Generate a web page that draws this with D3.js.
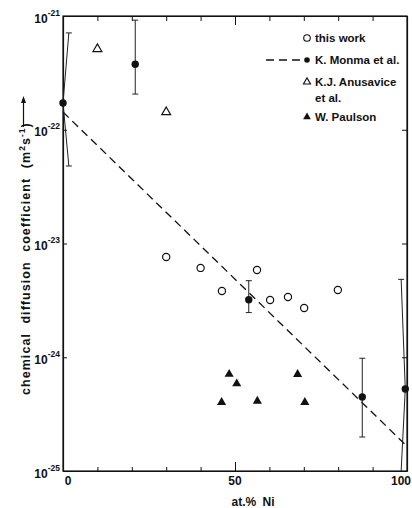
<!DOCTYPE html>
<html>
<head>
<meta charset="utf-8">
<script src="https://cdn.jsdelivr.net/npm/d3@7/dist/d3.min.js"></script>
<style>
  html, body { margin: 0; padding: 0; background: #fff; }
  svg { display: block; font-family: "Liberation Sans", Arial, Helvetica, sans-serif; font-weight: bold; }
</style>
</head>
<body>
<svg id="chart" width="412" height="508"></svg>
<script>
// Chemical diffusion coefficient vs. nickel content (at.% Ni)

// this work (open circles)
const workNi = [30, 40, 46.2, 56.4, 60.2, 65.4, 70.1, 79.9];
const workD  = [7.6e-24, 6.1e-24, 3.82e-24, 5.85e-24, 3.19e-24, 3.39e-24, 2.71e-24, 3.9e-24];

// K. Monma et al. (filled circles with error bars)
const monmaNi   = [0, 21, 54, 87, 99.5];
const monmaD    = [1.72e-22, 3.76e-22, 3.2e-24, 4.47e-25, 5.26e-25];
const monmaHigh = [7.1e-22, 9.2e-22, 4.71e-24, 9.8e-25, 4.84e-24];
const monmaLow  = [4.8e-23, 2.06e-22, 2.47e-24, 1.99e-25, 1e-25];
const monmaBarNi = [1.7, 21, 54, 87, 98.3];

// K. Monma et al. fitted line (dashed)
const fitNi = [0, 100];
const fitD  = [1.43e-22, 1.65e-25];

// K.J. Anusavice et al. (open triangles)
const anusNi = [10, 30];
const anusD  = [5.13e-22, 1.43e-22];

// W. Paulson (filled triangles)
const paulNi = [48.3, 50.5, 46.1, 56.5, 68.2, 70.3];
const paulD  = [7.1e-25, 5.85e-25, 4.02e-25, 4.12e-25, 7.08e-25, 4.02e-25];

// axis ticks
const xTicks = d3.range(0, 101, 10);
const xLabels = ["0", "50", "100"];
const yTicks = [1e-25, 1e-24, 1e-23, 1e-22, 1e-21];

const legendItems = ["this work", "K. Monma et al.", "K.J. Anusavice", "W. Paulson"];

const ink = "#111";
const svg = d3.select("#chart");
const x = d3.scaleLinear().domain([0, 100]).range([63, 407]);
const y = d3.scaleLog().domain([1e-25, 1e-21]).range([471, 16]);

// frame
svg.append("rect")
  .attr("x", x(0)).attr("y", y(1e-21))
  .attr("width", x(100) - x(0)).attr("height", y(1e-25) - y(1e-21))
  .attr("fill", "none").attr("stroke", ink).attr("stroke-width", 1.2);

// bottom axis (inward ticks, longer at 50)
const gB = svg.append("g").attr("transform", `translate(0,${y(1e-25)})`)
  .call(d3.axisBottom(x).tickValues(xTicks).tickSize(-4).tickSizeOuter(0).tickFormat(""));
gB.selectAll(".tick line").attr("y2", d => d === 50 ? -9 : -4);
// top axis
const gT = svg.append("g").attr("transform", `translate(0,${y(1e-21)})`)
  .call(d3.axisTop(x).tickValues(xTicks).tickSize(-5).tickSizeOuter(0).tickFormat(""));
gT.selectAll(".tick line").attr("y2", d => d === 50 ? 9 : 5);
// left axis
const gL = svg.append("g").attr("transform", `translate(${x(0)},0)`)
  .call(d3.axisLeft(y).tickValues(yTicks).tickSize(-4).tickSizeOuter(0).tickPadding(3)
    .tickFormat(() => ""));
// right axis
const gR = svg.append("g").attr("transform", `translate(${x(100)},0)`)
  .call(d3.axisRight(y).tickValues(yTicks).tickSize(-5).tickSizeOuter(0).tickFormat(""));

[gB, gT, gL, gR].forEach(g => {
  g.select(".domain").attr("stroke", ink).attr("stroke-width", 1.2);
  g.selectAll(".tick line").attr("stroke", ink).attr("stroke-width", 1);
});

// x labels: 0 and 50 centred on ticks, 100 kept inside the right edge
svg.append("g").attr("font-size", 12).attr("fill", ink)
  .selectAll("text").data(xLabels).join("text")
  .attr("x", d => d === "100" ? 411 : (d === "0" ? x(0) + 5 : x(+d)))
  .attr("y", 485)
  .attr("text-anchor", d => d === "100" ? "end" : "middle")
  .text(d => d);

// power-of-ten labels on the left
gL.selectAll(".tick text")
  .attr("font-family", null).attr("font-size", 12).attr("fill", ink)
  .attr("dy", 6)
  .each(function(d) {
    const t = d3.select(this);
    t.append("tspan").text("10");
    t.append("tspan").attr("dy", -7).attr("font-size", 8.5).text(Math.round(Math.log10(d)));
  });

// axis titles
svg.append("text")
  .attr("x", 253).attr("y", 506)
  .attr("text-anchor", "middle").attr("font-size", 12).attr("fill", ink)
  .attr("word-spacing", 3)
  .text("at.% Ni");

const yTitle = svg.append("text")
  .attr("transform", "translate(30,395) rotate(-90)")
  .attr("font-size", 12.5).attr("fill", ink)
  .attr("letter-spacing", 1.05).attr("word-spacing", 5);
yTitle.append("tspan").text("chemical diffusion coefficient (m");
yTitle.append("tspan").attr("dy", -5).attr("font-size", 8.5).text("2");
yTitle.append("tspan").attr("dy", 5).text("s");
yTitle.append("tspan").attr("dy", -5).attr("font-size", 8.5).text("-1");
yTitle.append("tspan").attr("dy", 5).text(")");
// arrow after the unit
svg.append("line").attr("x1", 23.5).attr("x2", 23.5).attr("y1", 127).attr("y2", 101)
  .attr("stroke", ink).attr("stroke-width", 1.2);
svg.append("path").attr("d", "M23.5,96 L21,103 L26,103 Z").attr("fill", ink);

// fitted line
svg.append("path")
  .attr("d", d3.line().x(d => x(d[0])).y(d => y(d[1]))(fitNi.map((n, i) => [n, fitD[i]])))
  .attr("fill", "none").attr("stroke", ink).attr("stroke-width", 1.3)
  .attr("stroke-dasharray", "8,5");

// Monma error bars: each bar runs from the point to its caps
const capW = 3;
monmaNi.forEach((n, i) => {
  const px = x(n), py = y(monmaD[i]), bx = x(monmaBarNi[i]);
  const yHi = y(monmaHigh[i]), yLo = y(monmaLow[i]);
  svg.append("line").attr("x1", px).attr("y1", py).attr("x2", bx).attr("y2", yHi)
    .attr("stroke", "#222").attr("stroke-width", 1);
  svg.append("line").attr("x1", px).attr("y1", py).attr("x2", bx).attr("y2", yLo)
    .attr("stroke", "#222").attr("stroke-width", 1);
  svg.append("line").attr("x1", bx - capW).attr("x2", bx + capW).attr("y1", yHi).attr("y2", yHi)
    .attr("stroke", "#222").attr("stroke-width", 1);
  if (monmaLow[i] > y.domain()[0])
    svg.append("line").attr("x1", bx - capW).attr("x2", bx + capW).attr("y1", yLo).attr("y2", yLo)
      .attr("stroke", "#222").attr("stroke-width", 1);
});

// this work
svg.append("g").selectAll("circle").data(workNi.map((n, i) => [n, workD[i]])).join("circle")
  .attr("cx", d => x(d[0])).attr("cy", d => y(d[1])).attr("r", 3.6)
  .attr("fill", "#fff").attr("stroke", ink).attr("stroke-width", 1.2);
// Monma
svg.append("g").selectAll("circle").data(monmaNi.map((n, i) => [n, monmaD[i]])).join("circle")
  .attr("cx", d => x(d[0])).attr("cy", d => y(d[1])).attr("r", 3.7)
  .attr("fill", ink);
// Anusavice
svg.append("g").selectAll("path").data(anusNi.map((n, i) => [n, anusD[i]])).join("path")
  .attr("d", d3.symbol().type(d3.symbolTriangle).size(34))
  .attr("transform", d => `translate(${x(d[0])},${y(d[1])})`)
  .attr("fill", "#fff").attr("stroke", ink).attr("stroke-width", 1.2);
// Paulson
svg.append("g").selectAll("path").data(paulNi.map((n, i) => [n, paulD[i]])).join("path")
  .attr("d", d3.symbol().type(d3.symbolTriangle).size(36))
  .attr("transform", d => `translate(${x(d[0])},${y(d[1])})`)
  .attr("fill", ink);

// legend
const lg = svg.append("g").attr("font-size", 11.5).attr("fill", ink);
const mx = 307, tx = 315;
lg.append("circle").attr("cx", mx).attr("cy", 38).attr("r", 3.3)
  .attr("fill", "#fff").attr("stroke", ink).attr("stroke-width", 1.1);
lg.append("text").attr("x", tx).attr("y", 42).text(legendItems[0]);
lg.append("line").attr("x1", 266).attr("x2", 300).attr("y1", 60).attr("y2", 60)
  .attr("stroke", ink).attr("stroke-width", 1.3).attr("stroke-dasharray", "8,5");
lg.append("circle").attr("cx", mx).attr("cy", 60).attr("r", 2.8).attr("fill", ink);
lg.append("text").attr("x", tx).attr("y", 64).text(legendItems[1]);
lg.append("path").attr("d", d3.symbol().type(d3.symbolTriangle).size(22))
  .attr("transform", `translate(${mx},82)`)
  .attr("fill", "#fff").attr("stroke", ink).attr("stroke-width", 1.1);
lg.append("text").attr("x", tx).attr("y", 86).text(legendItems[2]);
lg.append("text").attr("x", tx).attr("y", 102).text("et al.");
lg.append("path").attr("d", d3.symbol().type(d3.symbolTriangle).size(26))
  .attr("transform", `translate(${mx},117)`).attr("fill", ink);
lg.append("text").attr("x", tx).attr("y", 121).text(legendItems[3]);
</script>
</body>
</html>
